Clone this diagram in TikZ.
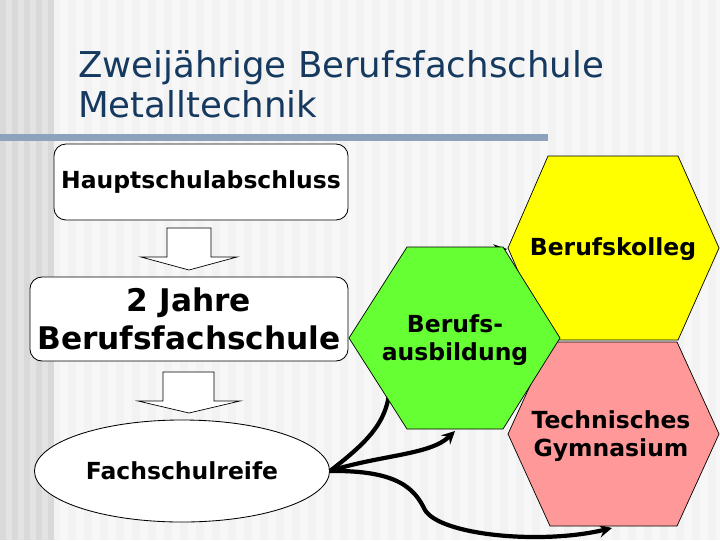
\documentclass[tikz,border=0pt]{standalone}
\usepackage{fontspec}
\setmainfont{DejaVu Sans}
\usepackage{tikz}
\usetikzlibrary{shapes.geometric, arrows}

\definecolor{titleblue}{HTML}{163A5F}
\definecolor{rulegray}{HTML}{8DA3BD}
\definecolor{kollegyellow}{HTML}{FFFF00}
\definecolor{ausbgreen}{HTML}{66FF33}
\definecolor{gympink}{HTML}{FF9999}

\begin{document}
\begin{tikzpicture}[x=0.025cm, y=-0.025cm,
    title/.style={text=titleblue, font=\fontsize{25.3}{30}\selectfont, inner sep=0, anchor=base west},
    lbl/.style={font=\fontsize{16.7}{19.5}\selectfont\bfseries, align=center, inner sep=0},
    box/.style={draw, fill=white, rounded corners=0.3cm, line width=0.6pt},
    blockarrow/.style={draw, fill=white, line width=0.5pt},
    hexa/.style={draw, line width=0.5pt},
    route/.style={line width=3pt, -stealth}]

    \useasboundingbox (0,0) rectangle (720,540);
    % background stripes
    \fill[white!95!black] (0,0) rectangle (720,540);
    \foreach \x in {60,76,...,716}
        \fill[white!97!black] (\x,0) rectangle +(8,540);
    \fill[white!89!black] (0,0) rectangle (54,540);
    \foreach \x in {0,12,...,48}
        \fill[white!85!black] (\x,0) rectangle +(6,540);
    \fill[rulegray] (0,134) rectangle (548,141);

    % title
    \node[title] (titlea) at (78,77) {Zweijährige Berufsfachschule};
    \node[title] (titleb) at (78,117) {Metalltechnik};

    % left column
    \node[box, lbl, minimum width=7.35cm, minimum height=1.9cm] (hauptschul) at (201,182) {Hauptschulabschluss};
    \node[box, lbl, font=\fontsize{22.2}{27}\selectfont\bfseries, minimum width=7.95cm, minimum height=2.1cm] (bfs) at (189,319) {2 Jahre\\Berufsfachschule};
    \node[ellipse, draw, fill=white, line width=0.6pt, lbl, minimum width=7.375cm, minimum height=2.55cm] (fsr) at (182,471) {Fachschulreife};

    \filldraw[blockarrow] (167,228) -- (211,228) -- (211,257) -- (237,257) -- (189,270) -- (141,257) -- (167,257) -- cycle;
    \filldraw[blockarrow] (163,372) -- (214,372) -- (214,401) -- (240,401) -- (189,413) -- (138,401) -- (163,401) -- cycle;

    % routes after the Fachschulreife
    \coordinate (kolleg-w) at (507,249);
    \coordinate (ausb-s) at (455,431);
    \coordinate (gym-s) at (612,528);
    \draw[route] (fsr.east) .. controls (370,440) and (390,420) .. (390,380) .. controls (390,290) and (440,258) .. (kolleg-w);
    \draw[route] (fsr.east) .. controls (380,455) and (430,455) .. (ausb-s);
    \draw[route] (fsr.east) .. controls (400,470) and (415,490) .. (425,510) .. controls (440,535) and (540,545) .. (gym-s);

    % hexagons
    \filldraw[hexa, fill=kollegyellow] (508,248) -- (548,156) -- (678,156) -- (719,248) -- (678,340) -- (548,340) -- cycle;
    \filldraw[hexa, fill=gympink] (508,434) -- (550,342) -- (677,342) -- (719,434) -- (677,526) -- (550,526) -- cycle;
    \filldraw[hexa, fill=ausbgreen] (349,338) -- (407,247) -- (503,247) -- (560,338) -- (503,429) -- (407,429) -- cycle;

    \node[lbl] (kolleg) at (613,249) {Berufskolleg};
    \node[lbl] (ausb) at (455,340) {Berufs-\\ausbildung};
    \node[lbl] (gym) at (611,436) {Technisches\\Gymnasium};
\end{tikzpicture}
\end{document}
